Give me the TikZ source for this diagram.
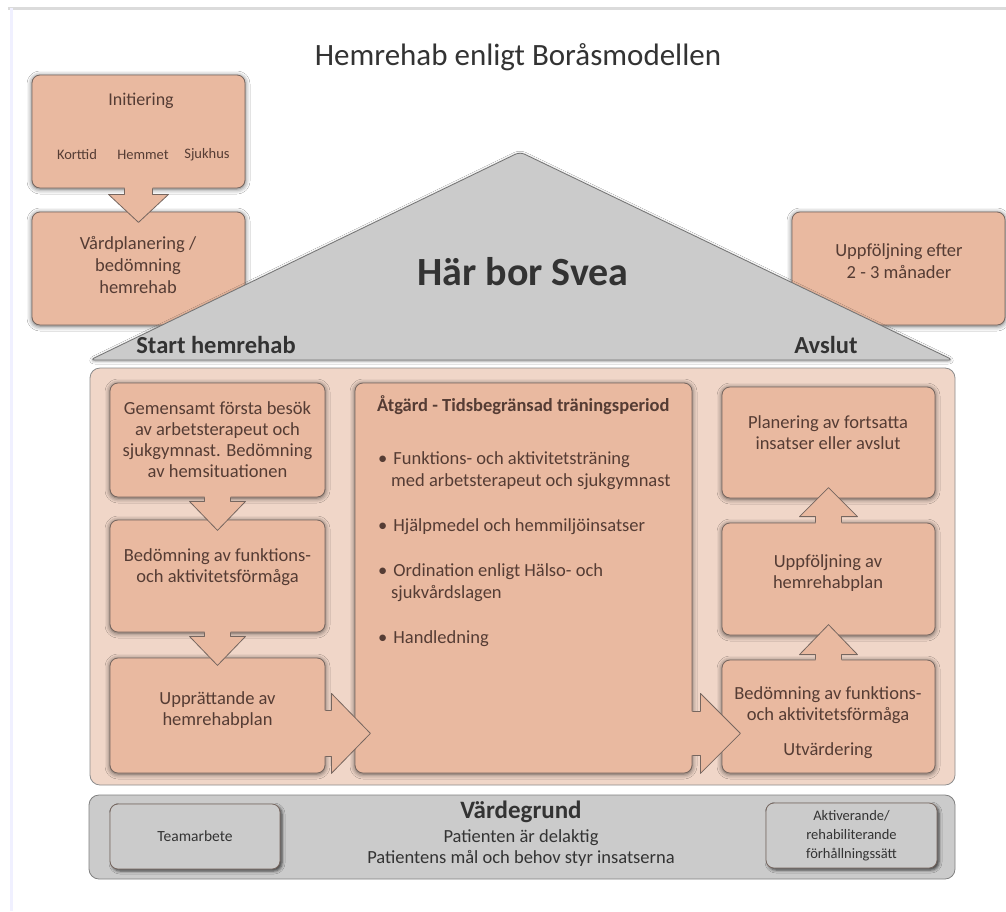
\documentclass[tikz,border=0pt]{standalone}
\usepackage{fontspec}
\setmainfont{Carlito}
\usetikzlibrary{shadows.blur,calc}
\definecolor{peach}{HTML}{E9B9A0}
\definecolor{peachlight}{HTML}{F0D6C8}
\definecolor{roofgray}{HTML}{CBCBCB}
\definecolor{edge}{HTML}{76665F}
\definecolor{txt}{HTML}{553C34}
\definecolor{gtxt}{HTML}{333333}
\tikzset{
  pbox/.style={draw=edge, line width=0.8pt, fill=peach, rounded corners=8pt, inner sep=0pt,
    text=txt, align=center, font=\fontsize{18.5}{21}\selectfont,
    blur shadow={shadow xshift=0pt, shadow yshift=-1pt, shadow blur radius=5pt, shadow opacity=65}},
  gbox/.style={draw=edge, line width=0.8pt, fill=roofgray, rounded corners=8pt, inner sep=0pt,
    text=gtxt, align=center, font=\fontsize{15.5}{19}\selectfont,
    blur shadow={shadow xshift=2pt, shadow yshift=-2pt, shadow blur radius=3pt, shadow opacity=70}},
  lbl/.style={text=txt, align=center, inner sep=0pt},
  pics/blockarrow/.style n args={4}{code={
    \fill[peach] (-3,-#1) -- (#3,-#1) -- (#3,-#2) -- (#4,0) -- (#3,#2) -- (#3,#1) -- (-3,#1) -- cycle;
    \draw[edge, line width=0.8pt, line join=round] (0,-#1) -- (#3,-#1) -- (#3,-#2) -- (#4,0) -- (#3,#2) -- (#3,#1) -- (0,#1);
  }}
}
\begin{document}
\begin{tikzpicture}[x=1pt, y=-1pt]
\useasboundingbox (0,0) rectangle (1006,911);
\fill[white] (0,0) rectangle (1006,911);
% faint outer frame
\draw[color=black!14, line width=3pt] (8,8) -- (1006,8);
\draw[color=blue!6, line width=3pt] (11,8) -- (11,911);

% title
\node[text=gtxt, font=\fontsize{31}{34}\selectfont] (title) at (518,57) {Hemrehab enligt Boråsmodellen};

% top-left boxes
\node[pbox, minimum width=213pt, minimum height=113pt] (init) at (138.5,131.5) {};
\node[lbl, font=\fontsize{18}{20}\selectfont] (initt) at (141,101) {Initiering};
\node[lbl, font=\fontsize{14.5}{16}\selectfont] (kort) at (77,155) {Korttid};
\node[lbl, font=\fontsize{14.5}{16}\selectfont] (hemm) at (143,155) {Hemmet};
\node[lbl, font=\fontsize{14.5}{16}\selectfont] (sjuk) at (207,155) {Sjukhus};
\node[pbox, minimum width=213pt, minimum height=113pt] (vard) at (138.5,268.5) {};
\node[lbl, font=\fontsize{18.5}{22}\selectfont] (vardt) at (138,265) {Vårdplanering /\\bedömning\\hemrehab};
\pic at (init.south) [rotate=-90] {blockarrow={14}{30}{6}{34}};

% right top box
\node[pbox, minimum width=213pt, minimum height=113pt] (uppf) at (898.5,268.5) {};
\node[lbl, font=\fontsize{18.5}{22}\selectfont] (uppft) at (899,261) {Uppföljning efter\\2 - 3 månader};

% roof
\draw[draw=black!55, line width=0.8pt, fill=roofgray, rounded corners=5pt,
  blur shadow={shadow xshift=0pt, shadow yshift=-1pt, shadow blur radius=3pt, shadow opacity=40}]
  (90,360) -- (520,152) -- (953,360) -- cycle;
\node[text=black!80, font=\bfseries\fontsize{40}{44}\selectfont] (svea) at (523,272) {Här bor Svea};
\node[text=black!80, font=\bfseries\fontsize{24.5}{27}\selectfont] (start) at (216,345) {Start hemrehab};
\node[text=black!80, font=\bfseries\fontsize{24.5}{27}\selectfont] (avslut) at (826,345) {Avslut};

% main frame
\node[draw=black!45, line width=0.8pt, fill=peachlight, rounded corners=10pt,
  minimum width=865pt, minimum height=417pt] (frame) at (522.5,576.5) {};

% left column
\node[pbox, minimum width=215pt, minimum height=114pt] (l1) at (217.5,440) {Gemensamt första besök\\av arbetsterapeut och\\sjukgymnast. Bedömning\\av hemsituationen};
\node[pbox, minimum width=215pt, minimum height=112pt] (l2) at (217.5,576) {};
\node[lbl, font=\fontsize{18.5}{21}\selectfont] (l2t) at (217.5,567) {Bedömning av funktions-\\och aktivitetsförmåga};
\node[pbox, minimum width=215pt, minimum height=115pt] (l3) at (217.5,715.5) {};
\node[lbl, font=\fontsize{18.5}{21}\selectfont] (l3t) at (217.5,710) {Upprättande av\\hemrehabplan};

% middle
\node[pbox, minimum width=337pt, minimum height=390pt] (mid) at (523.5,578) {};
\node[lbl, anchor=west, font=\bfseries\fontsize{18.5}{21}\selectfont] (midt) at (377,405) {Åtgärd - Tidsbegränsad träningsperiod};
\node[lbl, anchor=north west, align=left, font=\fontsize{18.5}{22}\selectfont] (midl) at (378,451)
  {\textbullet\hspace{6pt}Funktions- och aktivitetsträning\\
   \hspace*{13pt}med arbetsterapeut och sjukgymnast\\[23pt]
   \textbullet\hspace{6pt}Hjälpmedel och hemmiljöinsatser\\[23pt]
   \textbullet\hspace{6pt}Ordination enligt Hälso- och\\
   \hspace*{13pt}sjukvårdslagen\\[23pt]
   \textbullet\hspace{6pt}Handledning};

% right column
\node[pbox, minimum width=213pt, minimum height=111pt] (r1) at (828.5,442.5) {};
\node[lbl, font=\fontsize{18.5}{21}\selectfont] (r1t) at (828,433) {Planering av fortsatta\\insatser eller avslut};
\node[pbox, minimum width=213pt, minimum height=112pt] (r2) at (828.5,579) {};
\node[lbl, font=\fontsize{18.5}{21}\selectfont] (r2t) at (828,573) {Uppföljning av\\hemrehabplan};
\node[pbox, minimum width=213pt, minimum height=113pt] (r3) at (828.5,716.5) {};
\node[lbl, font=\fontsize{18.5}{21}\selectfont] (r3t) at (828,705) {Bedömning av funktions-\\och aktivitetsförmåga};
\node[lbl, font=\fontsize{18.5}{21}\selectfont] (r3u) at (828,751) {Utvärdering};

% block arrows
\pic at (l1.south) [rotate=-90] {blockarrow={13}{28}{4}{33}};
\pic at (l2.south) [rotate=-90] {blockarrow={13}{28}{4}{33}};
\pic at ($(l3.south east)+(0,-40)$) {blockarrow={23}{40}{6}{45}};
\pic at ($(mid.south east)+(0,-40)$) {blockarrow={22}{40}{8}{48}};
\pic at (r3.north) [rotate=90] {blockarrow={13}{29}{5}{35}};
\pic at (r2.north) [rotate=90] {blockarrow={13}{29}{6}{35}};

% bottom bar
\node[draw=black!50, line width=0.8pt, fill=roofgray, rounded corners=10pt,
  minimum width=866pt, minimum height=84pt] (bar) at (522,837) {};
\node[gbox, minimum width=170pt, minimum height=65pt] (team) at (195,836.5) {Teamarbete};
\node[gbox, minimum width=171pt, minimum height=65pt, font=\fontsize{14.5}{19}\selectfont] (akt) at (851.5,835.5) {Aktiverande/\\rehabiliterande\\förhållningssätt};
\node[text=gtxt, font=\bfseries\fontsize{25}{27}\selectfont, inner sep=0pt] (varde) at (521,812) {Värdegrund};
\node[text=gtxt, align=center, inner sep=0pt, font=\fontsize{18.5}{21}\selectfont] (vardet) at (521,848) {Patienten är delaktig\\Patientens mål och behov styr insatserna};
\end{tikzpicture}
\end{document}
